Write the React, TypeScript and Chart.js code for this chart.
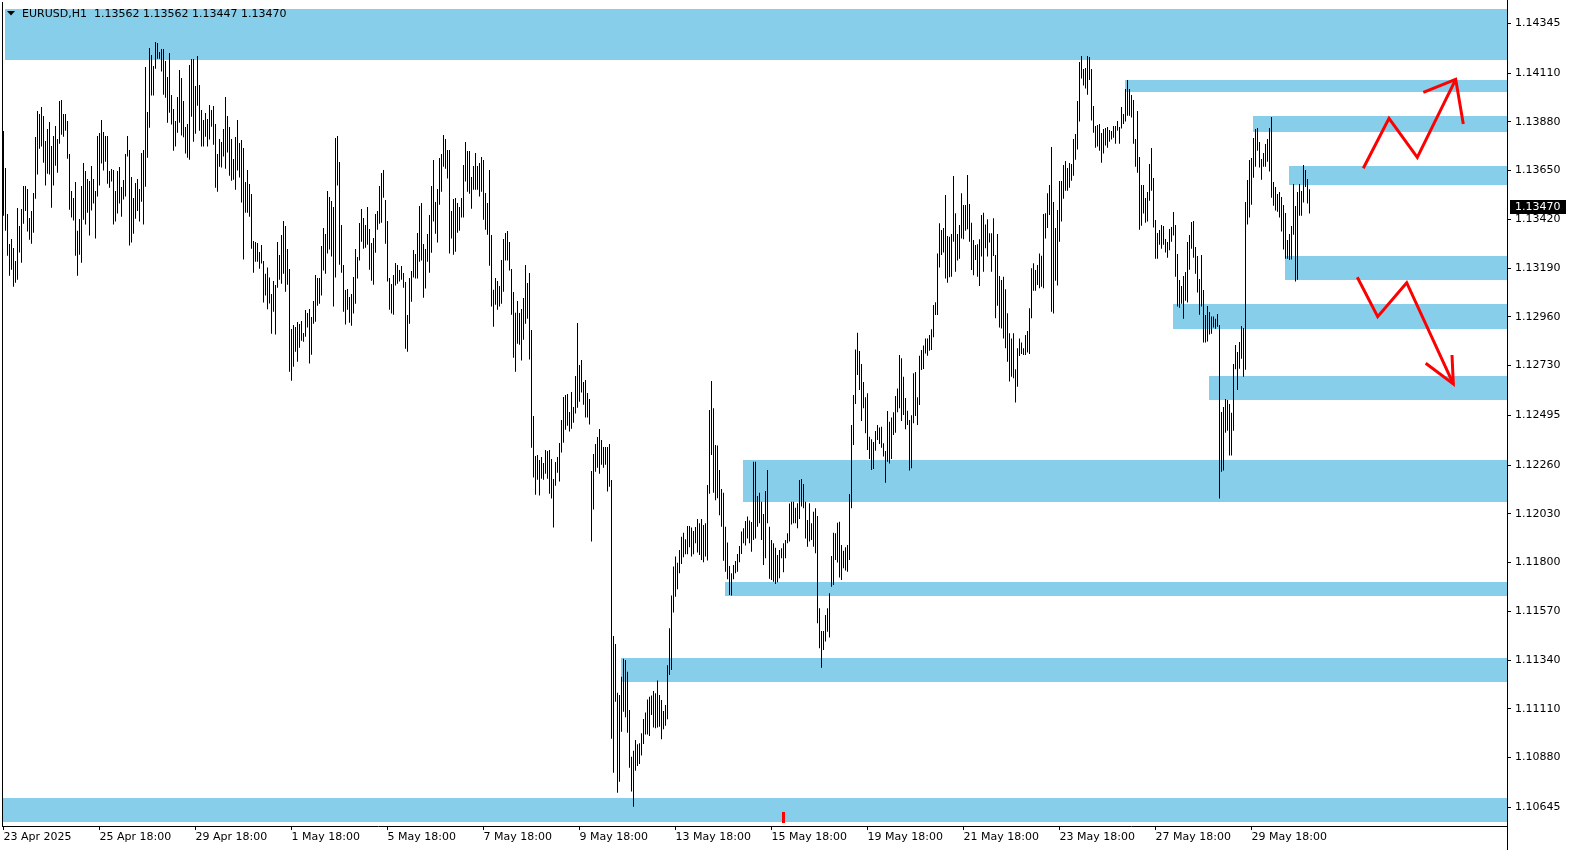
import React, { useEffect, useRef } from "react";
import { Chart, registerables } from "chart.js";

Chart.register(...registerables);

// ---- header text ----
const symbolName = "EURUSD,H1";
const lastBarOHLC = [1.13562, 1.13562, 1.13447, 1.1347];
const currentPrice = 1.1347;

// ---- axis ranges ----
const xMin = -0.75;
const xMax = 751.75;
const yMin = 1.105567;
const yMax = 1.144455;

// ---- time axis ----
const xTickBars = [0, 48, 96, 144, 192, 240, 288, 336, 384, 432, 480, 528, 576, 624];
const xTickLabels = [
  "23 Apr 2025", "25 Apr 18:00", "29 Apr 18:00", "1 May 18:00", "5 May 18:00", "7 May 18:00",
  "9 May 18:00", "13 May 18:00", "15 May 18:00", "19 May 18:00", "21 May 18:00", "23 May 18:00",
  "27 May 18:00", "29 May 18:00",
];

// ---- price axis ----
const yTickValues = [
  1.14345, 1.1411, 1.1388, 1.1365, 1.1342, 1.1319, 1.1296, 1.1273, 1.12495, 1.1226, 1.1203,
  1.118, 1.1157, 1.1134, 1.1111, 1.1088, 1.10645,
];

// ---- H1 bars: highs and lows ----
const highs = [
1.13837,1.13662,1.13445,1.13303,1.13327,1.13285,1.13223,1.13473,1.13388,1.13469,
1.13577,1.13577,1.13563,1.13426,1.13459,1.13544,1.13808,1.13931,1.13917,1.13950,
1.13908,1.13790,1.13846,1.13879,1.13766,1.13813,1.13860,1.13799,1.13978,1.13983,
1.13917,1.13917,1.13884,1.13728,1.13554,1.13521,1.13596,1.13366,1.13421,1.13577,
1.13686,1.13648,1.13610,1.13601,1.13672,1.13610,1.13554,1.13813,1.13827,1.13889,
1.13832,1.13813,1.13813,1.13648,1.13657,1.13653,1.13554,1.13648,1.13667,1.13572,
1.13606,1.13728,1.13813,1.13747,1.13620,1.13521,1.13591,1.13610,1.13563,1.13733,
1.13747,1.14139,1.13926,1.14228,1.14195,1.14144,1.14257,1.14252,1.14210,1.14224,
1.14224,1.14167,1.14092,1.14205,1.14007,1.13941,1.13884,1.13997,1.14125,1.14087,
1.13978,1.13856,1.13870,1.14148,1.14177,1.14177,1.14049,1.14191,1.14054,1.13936,
1.13889,1.13922,1.13893,1.13959,1.13936,1.13955,1.13870,1.13728,1.13799,1.13785,
1.13846,1.13997,1.13908,1.13856,1.13799,1.13705,1.13808,1.13889,1.13780,1.13794,
1.13757,1.13596,1.13653,1.13587,1.13539,1.13318,1.13313,1.13308,1.13266,1.13299,
1.13223,1.13163,1.13192,1.13145,
1.13067,1.13129,1.13110,1.13313,1.13251,1.13346,1.13412,1.13388,1.13280,1.13185,
1.12902,1.12921,1.12912,1.12935,1.12926,1.12940,1.12883,1.12992,1.12978,1.12997,
1.12959,1.13034,1.13157,1.13143,1.13143,1.13294,1.13379,1.13351,1.13554,1.13525,
1.13506,1.13478,1.13804,1.13813,1.13690,1.13393,1.13204,1.13086,1.13091,1.13053,
1.13067,1.13148,1.13280,1.13242,1.13403,1.13469,1.13426,1.13393,1.13478,1.13374,
1.13308,1.13332,1.13445,1.13459,1.13577,1.13638,1.13653,1.13511,1.13412,1.13143,
1.13115,1.13157,1.13214,1.13204,1.13181,1.13200,1.13167,1.13124,1.12968,1.13143,
1.13176,1.13275,1.13256,1.13355,1.13483,1.13497,1.13303,1.13280,1.13351,1.13440,
1.13577,1.13700,1.13502,1.13563,1.13709,1.13728,1.13818,1.13799,1.13747,1.13747,
1.13459,1.13516,1.13520,1.13497,1.13478,1.13520,1.13676,1.13785,1.13742,1.13742,
1.13620,1.13672,1.13733,1.13672,1.13686,1.13714,1.13700,1.13544,1.13497,1.13653,
1.13346,1.13088,1.13143,1.13129,1.13105,1.13228,1.13327,1.13355,1.13365,1.13313,
1.13185,1.13077,1.12979,1.13034,1.12978,1.12997,1.13049,1.13204,1.13119,1.13167,
1.12898,1.12492,1.12303,1.12308,1.12284,1.12298,1.12270,1.12331,1.12326,1.12331,
1.12289,1.12194,1.12275,1.12298,1.12364,1.12473,1.12581,1.12591,1.12595,1.12511,
1.12605,1.12534,1.12680,1.12931,1.12732,1.12756,1.12652,1.12662,1.12600,1.12572,
1.12232,1.12312,1.12360,1.12393,1.12430,1.12378,1.12345,1.12345,1.12345,1.12360,
1.12190,1.11453,1.11416,1.11186,1.11175,1.11261,1.11346,1.11340,1.11285,1.11104,
1.10884,1.10912,1.10963,1.10942,1.10947,1.10994,1.11062,1.11092,1.11154,1.11167,
1.11172,1.11194,1.11183,1.11243,1.11175,1.11151,1.11099,1.11128,1.11315,1.11490,
1.11644,1.11781,1.11828,1.11799,1.11859,1.11922,1.11941,1.11910,1.11973,1.11973,
1.11965,1.11949,1.11968,1.12006,1.11985,1.12006,1.11977,1.11985,1.12166,1.12520,
1.12657,1.12528,1.12355,1.12352,1.12237,1.12147,1.12130,1.11969,1.11895,1.11784,
1.11749,1.11788,1.11807,1.11840,1.11878,1.11946,1.11962,1.11996,1.12017,1.11998,
1.11991,1.12276,1.12276,1.12114,1.12130,1.12087,1.12029,1.12138,1.12237,1.11969,
1.11906,1.11891,1.11870,1.11836,1.11859,1.11867,1.11891,1.11906,1.11938,1.12079,
1.12087,1.12087,1.12059,1.12080,1.12190,1.12194,1.12171,1.12087,1.12001,1.12080,
1.11985,1.12040,1.12056,1.12020,1.11584,1.11477,1.11477,1.11553,1.11584,1.11655,
1.11831,1.11941,1.11938,1.11988,1.11993,1.11883,1.11856,1.11872,1.11883,1.12124,
1.12449,1.12591,1.12806,1.12885,1.12799,1.12737,1.12652,1.12580,1.12599,1.12394,
1.12382,1.12369,1.12421,1.12449,1.12437,1.12441,1.12363,1.12327,1.12515,1.12465,
1.12484,1.12509,1.12586,1.12622,1.12780,1.12764,1.12677,1.12577,1.12517,1.12473,
1.12495,1.12693,1.12699,1.12580,1.12776,1.12803,1.12824,1.12858,1.12858,1.12874,
1.12901,1.13016,1.13028,1.13259,1.13401,1.13370,1.13379,1.13535,1.13341,1.13338,
1.13351,1.13624,1.13448,1.13351,1.13393,1.13543,1.13488,1.13488,1.13629,1.13492,
1.13404,1.13322,1.13299,1.13302,1.13326,1.13440,1.13451,1.13396,1.13420,1.13354,
1.13354,1.13425,1.13252,1.13351,1.13152,1.13134,1.13149,1.13090,1.12976,1.12882,
1.12858,1.12882,1.12712,1.12811,1.12858,1.12838,1.12811,1.12874,1.12893,1.13000,
1.13189,1.13212,1.13181,1.13204,1.13259,1.13248,1.13445,1.13448,1.13543,1.13582,
1.13761,1.13502,1.13379,1.13464,1.13601,1.13601,1.13676,1.13695,1.13662,1.13686,
1.13681,1.13799,1.13823,1.13978,1.14162,1.14191,1.14129,1.14134,1.14191,1.14186,
1.14129,1.13955,1.13860,1.13865,1.13870,1.13827,1.13846,1.13851,1.13856,1.13841,
1.13837,1.13860,1.13860,1.13884,1.13856,1.13950,1.13917,1.14035,1.14077,1.14035,
1.14007,1.13983,1.13799,1.13931,1.13714,1.13582,1.13582,1.13521,1.13549,1.13681,
1.13757,1.13615,1.13417,1.13355,1.13370,1.13393,1.13388,1.13327,1.13313,1.13374,
1.13384,1.13454,1.13393,1.13256,1.13134,1.13105,1.13152,1.13171,1.13313,1.13346,
1.13407,1.13412,1.13289,1.13247,1.13138,1.13252,1.13086,1.12968,1.13011,1.12983,
1.12961,1.12961,1.12951,1.12973,1.12921,1.12511,1.12534,1.12572,1.12567,1.12548,
1.12507,1.12737,1.12827,1.12794,1.12841,1.12916,1.12907,1.13502,1.13605,1.13700,
1.13709,1.13804,1.13846,1.13851,1.13785,1.13705,1.13733,1.13775,1.13799,1.13851,
1.13903,1.13596,1.13572,1.13539,1.13549,1.13525,1.13487,1.13450,1.13322,1.13351,
1.13388,1.13587,1.13483,1.13549,1.13587,1.13554,1.13676,1.13653,1.13610,1.13562,
];

const lows = [
1.13437,1.13366,1.13248,1.13154,1.13182,1.13102,1.13121,1.13135,1.13263,1.13215,
1.13399,1.13459,1.13362,1.13324,1.13305,1.13357,1.13517,1.13631,1.13753,1.13763,
1.13687,1.13579,1.13635,1.13631,1.13475,1.13579,1.13673,1.13640,1.13777,1.13819,
1.13810,1.13838,1.13706,1.13465,1.13428,1.13414,1.13248,1.13154,1.13253,1.13215,
1.13418,1.13395,1.13451,1.13343,1.13461,1.13494,1.13329,1.13527,1.13579,1.13683,
1.13650,1.13692,1.13588,1.13569,1.13598,1.13395,1.13409,1.13447,1.13494,1.13432,
1.13513,1.13527,1.13716,1.13296,1.13310,1.13352,1.13423,1.13459,1.13409,1.13503,
1.13395,1.13574,1.13711,1.13852,1.14004,1.14004,1.14131,1.14178,1.14178,1.14117,
1.14008,1.13994,1.13876,1.13923,1.13867,1.13744,1.13763,1.13829,1.13876,1.13815,
1.13807,1.13730,1.13711,1.13701,1.13904,1.13786,1.13824,1.13956,1.13838,1.13763,
1.13763,1.13810,1.13763,1.13796,1.13857,1.13772,1.13569,1.13550,1.13668,1.13664,
1.13716,1.13659,1.13735,1.13626,1.13602,1.13607,1.13560,1.13650,1.13617,1.13499,
1.13230,1.13451,1.13451,1.13432,1.13281,1.13168,1.13220,1.13220,1.13187,1.13211,
1.13027,1.13060,1.12995,1.13023,
1.12880,1.12984,1.12876,1.13097,1.13135,1.13116,1.13163,1.13078,1.13111,1.12701,
1.12658,1.12724,1.12795,1.12748,1.12814,1.12847,1.12842,1.12866,1.12909,1.12739,
1.12781,1.12927,1.12937,1.13012,1.13022,1.13060,1.13178,1.13163,1.13258,1.13277,
1.13244,1.13008,1.13145,1.13579,1.13206,1.13168,1.12984,1.12923,1.12993,1.12932,
1.12918,1.12975,1.13022,1.13140,1.13225,1.13314,1.13281,1.13286,1.13300,1.13182,
1.13130,1.13111,1.13262,1.13371,1.13399,1.13404,1.13522,1.13305,1.13126,1.12993,
1.12975,1.12970,1.13107,1.13116,1.13126,1.13135,1.13097,1.12809,1.12795,1.12927,
1.13031,1.13145,1.13140,1.13140,1.13220,1.13225,1.13050,1.13093,1.13220,1.13168,
1.13262,1.13409,1.13352,1.13310,1.13489,1.13550,1.13668,1.13659,1.13612,1.13258,
1.13329,1.13253,1.13267,1.13357,1.13366,1.13428,1.13428,1.13598,1.13550,1.13541,
1.13470,1.13560,1.13560,1.13560,1.13527,1.13550,1.13418,1.13371,1.13347,1.13201,
1.13008,1.12913,1.13017,1.12993,1.13008,1.13022,1.13078,1.13225,1.13225,1.13178,
1.12970,1.12767,1.12701,1.12833,1.12828,1.12753,1.12852,1.12927,1.12951,1.12758,
1.12342,1.12201,1.12120,1.12191,1.12116,1.12196,1.12191,1.12219,1.12196,1.12125,
1.12102,1.11965,1.12163,1.12224,1.12182,1.12319,1.12366,1.12427,1.12446,1.12418,
1.12432,1.12460,1.12503,1.12531,1.12559,1.12602,1.12545,1.12484,1.12484,1.12451,
1.11899,1.12050,1.12229,1.12248,1.12219,1.12262,1.12248,1.12262,1.12135,1.12158,
1.10969,1.10808,1.11143,1.10714,1.10766,1.11002,1.11096,1.11070,1.10997,1.10832,
1.10719,1.10648,1.10818,1.10840,1.10849,1.10889,1.10944,1.10988,1.10988,1.10981,
1.11081,1.11021,1.11018,1.11021,1.11025,1.10966,1.11013,1.11030,1.11060,1.11269,
1.11293,1.11564,1.11639,1.11674,1.11749,1.11793,1.11825,1.11839,1.11839,1.11872,
1.11828,1.11839,1.11891,1.11848,1.11836,1.11812,1.11801,1.11828,1.11810,1.12125,
1.12308,1.12130,1.12094,1.12103,1.12023,1.11969,1.11809,1.11757,1.11721,1.11647,
1.11644,1.11721,1.11749,1.11757,1.11801,1.11840,1.11891,1.11881,1.11913,1.11891,
1.11851,1.11906,1.11914,1.11969,1.11985,1.11906,1.11788,1.11820,1.11985,1.11724,
1.11718,1.11710,1.11699,1.11707,1.11726,1.11820,1.11754,1.11820,1.11891,1.11899,
1.11980,1.11985,1.11985,1.11962,1.12006,1.12064,1.12056,1.11914,1.11875,1.11899,
1.11907,1.11875,1.11844,1.11513,1.11395,1.11304,1.11387,1.11427,1.11474,1.11446,
1.11686,1.11694,1.11812,1.11800,1.11729,1.11718,1.11773,1.11762,1.11757,1.11812,
1.12056,1.12355,1.12548,1.12685,1.12614,1.12468,1.12528,1.12410,1.12331,1.12289,
1.12237,1.12242,1.12328,1.12378,1.12360,1.12342,1.12300,1.12177,1.12276,1.12268,
1.12289,1.12402,1.12413,1.12509,1.12528,1.12468,1.12496,1.12429,1.12449,1.12234,
1.12245,1.12457,1.12492,1.12449,1.12544,1.12709,1.12714,1.12787,1.12776,1.12800,
1.12803,1.12863,1.12968,1.12968,1.13192,1.13252,1.13263,1.13141,1.13121,1.13146,
1.13149,1.13314,1.13173,1.13225,1.13234,1.13329,1.13326,1.13366,1.13373,1.13314,
1.13181,1.13156,1.13228,1.13149,1.13105,1.13244,1.13173,1.13283,1.13244,1.13310,
1.13173,1.13247,1.12953,1.13012,1.12909,1.12905,1.12858,1.12811,1.12748,1.12654,
1.12677,1.12670,1.12555,1.12630,1.12775,1.12784,1.12780,1.12780,1.12791,1.12784,
1.12953,1.13083,1.13083,1.13110,1.13094,1.13102,1.13094,1.13329,1.13379,1.13440,
1.12984,1.12975,1.13130,1.13107,1.13314,1.13409,1.13517,1.13555,1.13555,1.13569,
1.13602,1.13626,1.13701,1.13749,1.13881,1.14084,1.14051,1.14037,1.14008,1.14077,
1.13886,1.13829,1.13758,1.13763,1.13744,1.13687,1.13730,1.13768,1.13758,1.13786,
1.13796,1.13805,1.13777,1.13838,1.13777,1.13848,1.13870,1.13881,1.13909,1.13909,
1.13900,1.13777,1.13668,1.13640,1.13371,1.13390,1.13447,1.13404,1.13409,1.13508,
1.13555,1.13381,1.13234,1.13234,1.13300,1.13281,1.13300,1.13263,1.13239,1.13274,
1.13314,1.13343,1.13149,1.13008,1.13003,1.13022,1.12951,1.13036,1.13027,1.13182,
1.13281,1.13239,1.13163,1.13074,1.12970,1.13008,1.12838,1.12838,1.12843,1.12876,
1.12880,1.12909,1.12904,1.12913,1.12102,1.12229,1.12234,1.12413,1.12422,1.12305,
1.12305,1.12422,1.12712,1.12614,1.12715,1.12762,1.12677,1.12710,1.13395,1.13428,
1.13489,1.13616,1.13668,1.13744,1.13664,1.13607,1.13668,1.13668,1.13692,1.13645,
1.13522,1.13484,1.13461,1.13456,1.13428,1.13362,1.13277,1.13234,1.13234,1.13228,
1.13230,1.13347,1.13126,1.13135,1.13437,1.13437,1.13499,1.13572,1.13494,1.13447,
];

// ---- support / resistance zones (start bar, top price, bottom price) ----
const zoneStartBar = [0.75, 560.75, 624.75, 642.75, 640.75, 584.75, 602.75, 369.75, 360.75, 308.75, -0.25];
const zoneTop = [1.144125, 1.140774, 1.139075, 1.136715, 1.132468, 1.130203, 1.126804, 1.12284, 1.117082, 1.113496, 1.106889];
const zoneBottom = [1.141718, 1.140222, 1.138334, 1.135833, 1.131335, 1.129037, 1.125672, 1.120872, 1.116436, 1.112363, 1.105756];

// ---- hand-drawn red scenario arrows (bar, price) ----
const upPathBars = [679.9, 692.75, 706.9, 726.1];
const upPathPrices = [1.136607, 1.138967, 1.137126, 1.140807];
const upHeadBars = [709.9, 726.1, 729.9];
const upHeadPrices = [1.140194, 1.140807, 1.138698];
const downPathBars = [676.9, 687.1, 701.6, 724.9];
const downPathPrices = [1.131463, 1.129603, 1.131208, 1.126427];
const downHeadBars = [711.1, 724.9, 724.25];
const downHeadPrices = [1.127404, 1.126427, 1.127796];

const shiftMarkerBar = 389.5;

const FONT = "'DejaVu Sans', Verdana, sans-serif";

const zonePlugin = {
  id: "zones",
  beforeDatasetsDraw(chart: any) {
    const { ctx, chartArea, scales } = chart;
    const xs = scales.x;
    const ys = scales.y;
    ctx.save();
    ctx.beginPath();
    ctx.rect(chartArea.left, chartArea.top, chartArea.right - chartArea.left, chartArea.bottom - chartArea.top);
    ctx.clip();
    ctx.fillStyle = "#87CEEB";
    for (let k = 0; k < zoneTop.length; k++) {
      const x0 = Math.round(xs.getPixelForValue(zoneStartBar[k]));
      const y0 = Math.round(ys.getPixelForValue(zoneTop[k]));
      const y1 = Math.round(ys.getPixelForValue(zoneBottom[k]));
      ctx.fillRect(x0, y0, chartArea.right - x0, y1 - y0);
    }
    ctx.restore();
  },
};

const overlayPlugin = {
  id: "overlay",
  afterDraw(chart: any) {
    const { ctx, chartArea, scales } = chart;
    const xs = scales.x;
    const ys = scales.y;
    ctx.save();
    ctx.fillStyle = "#000";
    ctx.fillRect(chartArea.left, chartArea.top, 1, chartArea.bottom - chartArea.top + 1);
    ctx.fillRect(chartArea.right, 0, 1, chart.height);
    // title
    ctx.beginPath();
    ctx.moveTo(7, 11);
    ctx.lineTo(15, 11);
    ctx.lineTo(11, 15.5);
    ctx.closePath();
    ctx.fill();
    ctx.font = "11px " + FONT;
    ctx.textAlign = "left";
    ctx.textBaseline = "alphabetic";
    ctx.fillText(symbolName, 22, 17);
    lastBarOHLC.forEach((v, k) => ctx.fillText(v.toFixed(5), 94 + 49 * k, 17));
    // current price tag
    const py = Math.round(ys.getPixelForValue(currentPrice));
    ctx.fillRect(chartArea.right + 3, py - 9, 56, 14);
    ctx.fillStyle = "#fff";
    ctx.textBaseline = "middle";
    ctx.fillText(currentPrice.toFixed(5), chartArea.right + 8, py - 2);
    // chart shift marker
    ctx.fillStyle = "#ff0000";
    const mx = Math.round(xs.getPixelForValue(shiftMarkerBar));
    ctx.fillRect(mx - 1, chartArea.bottom - 14, 3, 11);
    ctx.restore();
  },
};

function pts(bars: number[], prices: number[]) {
  return bars.map((b, i) => ({ x: b, y: prices[i] }));
}

export default function App() {
  const ref = useRef<HTMLCanvasElement>(null);
  useEffect(() => {
    const canvas = ref.current;
    if (!canvas) return;
    const barData = highs.map((h, i) => ({ x: i, y: [lows[i], h] }));
    const arrowStyle = {
      type: "line" as const,
      borderColor: "#ff0000",
      borderWidth: 3,
      pointRadius: 0,
      fill: false,
      tension: 0,
      order: 0,
      borderJoinStyle: "miter" as const,
    };
    const chart = new Chart(canvas, {
      type: "bar",
      data: {
        datasets: [
          {
            type: "bar",
            data: barData as any,
            backgroundColor: "#000",
            borderWidth: 0,
            barThickness: 1,
            inflateAmount: 0,
            grouped: false,
            order: 2,
          } as any,
          { ...arrowStyle, data: pts(upPathBars, upPathPrices) } as any,
          { ...arrowStyle, data: pts(upHeadBars, upHeadPrices) } as any,
          { ...arrowStyle, data: pts(downPathBars, downPathPrices) } as any,
          { ...arrowStyle, data: pts(downHeadBars, downHeadPrices) } as any,
        ],
      },
      options: {
        animation: false,
        responsive: false,
        maintainAspectRatio: false,
        devicePixelRatio: 1,
        events: [],
        layout: { padding: { left: 2, top: 2, right: 0, bottom: 0 } },
        plugins: { legend: { display: false }, tooltip: { enabled: false } },
        scales: {
          x: {
            type: "linear",
            position: "bottom",
            min: xMin,
            max: xMax,
            offset: false,
            grid: { display: true, offset: false, drawOnChartArea: false, drawTicks: true, tickLength: 4, color: "#000", lineWidth: 1 },
            border: { display: true, color: "#000", width: 1 },
            ticks: {
              autoSkip: false,
              maxRotation: 0,
              minRotation: 0,
              align: "start",
              padding: 1,
              color: "#000",
              font: { family: FONT, size: 11 },
              callback: (v: any) => {
                const k = xTickBars.indexOf(Number(v));
                return k >= 0 ? xTickLabels[k] : "";
              },
            },
            afterBuildTicks: (s: any) => {
              s.ticks = xTickBars.map((v) => ({ value: v }));
            },
            afterFit: (s: any) => {
              s.height = 24;
              s.paddingLeft = 0;
              s.paddingRight = 0;
              s.paddingTop = 0;
              s.paddingBottom = 0;
            },
          },
          y: {
            type: "linear",
            position: "right",
            min: yMin,
            max: yMax,
            grid: { display: true, drawOnChartArea: false, drawTicks: true, tickLength: 4, color: "#000", lineWidth: 1 },
            border: { display: true, color: "#000", width: 1 },
            ticks: {
              autoSkip: false,
              padding: 4,
              color: "#000",
              font: { family: FONT, size: 11 },
              callback: (v: any) => Number(v).toFixed(5),
            },
            afterBuildTicks: (s: any) => {
              s.ticks = yTickValues.map((v) => ({ value: v }));
            },
            afterFit: (s: any) => {
              s.width = 65;
              s.paddingLeft = 0;
              s.paddingRight = 0;
              s.paddingTop = 0;
              s.paddingBottom = 0;
            },
          },
        },
      } as any,
      plugins: [zonePlugin, overlayPlugin],
    });
    return () => chart.destroy();
  }, []);

  return (
    <div style={{ position: "absolute", left: 0, top: 0, width: 1572, height: 850, background: "#fff" }}>
      <canvas ref={ref} width={1572} height={850} style={{ display: "block", width: 1572, height: 850 }} />
    </div>
  );
}
